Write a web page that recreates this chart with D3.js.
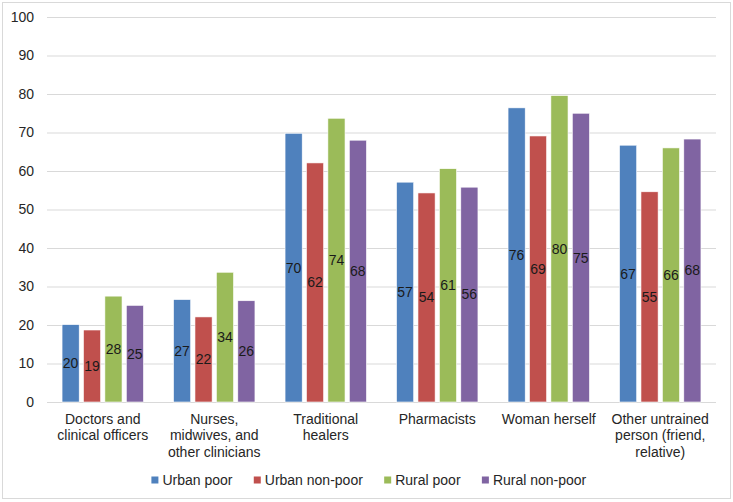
<!DOCTYPE html>
<html>
<head>
	<meta charset="utf-8">
	<title>Providers chart</title>
	<style>
		body {
			margin: 0;
			background: #fff;
		}
		svg {
			display: block;
			font-family: 'Liberation Sans', Arial, sans-serif;
		}
	</style>
</head>
<body>
	<svg width='733' height='502'></svg>
<script src='https://d3js.org/d3.v7.min.js'></script>
<script>
	// categories (each one is a list of lines)
	let categories = [
		['Doctors and', 'clinical officers'],
		['Nurses,', 'midwives, and', 'other clinicians'],
		['Traditional', 'healers'],
		['Pharmacists'],
		['Woman herself'],
		['Other untrained', 'person (friend,', 'relative)']
	]

	let seriesNames = ['Urban poor', 'Urban non-poor', 'Rural poor', 'Rural non-poor']
	let colors = ['#4F81BD', '#C0504D', '#9BBB59', '#8064A2']

	// one array per series, in category order
	let urbanPoor    = [20.1, 26.6, 69.8, 57.1, 76.4, 66.7]
	let urbanNonPoor = [18.7, 22.1, 62.1, 54.3, 69.1, 54.6]
	let ruralPoor    = [27.5, 33.7, 73.7, 60.6, 79.6, 66.0]
	let ruralNonPoor = [25.1, 26.3, 68.0, 55.8, 75.0, 68.3]

	let yTicks = [0, 10, 20, 30, 40, 50, 60, 70, 80, 90, 100]

	let series = [urbanPoor, urbanNonPoor, ruralPoor, ruralNonPoor]

	let plotL = 47, plotR = 716, plotT = 17, plotB = 402

	let svg = d3.select('svg')

	// outer frame
	svg.append('rect')
		.attr('x', 2.5)
		.attr('y', 2.5)
		.attr('width', 728)
		.attr('height', 496)
		.style('fill', '#fff')
		.style('stroke', '#d9d9d9')
		.style('stroke-width', 1)

	let x0 = d3.scaleBand()
		.domain(d3.range(categories.length))
		.range([plotL, plotR])
		.paddingInner(0.27)
		.paddingOuter(0.135)

	let x1 = d3.scaleBand()
		.domain(d3.range(seriesNames.length))
		.range([0, x0.bandwidth()])
		.paddingInner(0.2)

	let y = d3.scaleLinear()
		.domain([0, 100])
		.range([plotB, plotT])

	let color = d3.scaleOrdinal()
		.domain(d3.range(seriesNames.length))
		.range(colors)

	// gridlines + tick labels
	let yAxis = d3.axisLeft(y)
		.tickValues(yTicks)
		.tickSize(-(plotR - plotL))
		.tickPadding(13)

	let yg = svg.append('g')
		.attr('transform', `translate(${plotL},0)`)
		.call(yAxis)

	yg.select('.domain').remove()
	yg.selectAll('.tick line')
		.style('stroke', '#d9d9d9')
		.style('stroke-width', 1)
	yg.selectAll('.tick text')
		.style('font-size', '14px')
		.style('font-family', "'Liberation Sans', Arial, sans-serif")
		.style('fill', '#262626')

	// bars
	let groups = svg.append('g')
		.selectAll('g')
		.data(categories)
		.join('g')
		.attr('transform', (d, i) => `translate(${x0(i)},0)`)

	let cells = groups.selectAll('g')
		.data((d, i) => series.map((s, j) => ({ s: j, v: s[i] })))
		.join('g')

	cells.append('rect')
		.attr('x', d => x1(d.s))
		.attr('y', d => y(d.v))
		.attr('width', x1.bandwidth())
		.attr('height', d => y(0) - y(d.v))
		.style('fill', d => color(d.s))
		.style('stroke', '#fff')
		.style('stroke-width', 0.6)

	// data labels, centred in the bars
	cells.append('text')
		.attr('x', d => x1(d.s) + x1.bandwidth() / 2)
		.attr('y', d => y(d.v / 2))
		.attr('dy', '0.35em')
		.attr('text-anchor', 'middle')
		.style('font-size', '14px')
		.style('fill', '#1a1a1a')
		.text(d => Math.round(d.v))

	// category labels
	let catText = svg.append('g')
		.selectAll('text')
		.data(categories)
		.join('text')
		.attr('text-anchor', 'middle')
		.attr('x', (d, i) => x0(i) + x0.bandwidth() / 2)
		.attr('y', 424)
		.style('font-size', '14px')
		.style('fill', '#262626')

	catText.selectAll('tspan')
		.data(d => d)
		.join('tspan')
		.attr('x', function () { return d3.select(this.parentNode).attr('x') })
		.attr('dy', (d, i) => i == 0 ? 0 : 16.3)
		.text(d => d)

	// legend
	let legend = svg.append('g')
	let items = legend.selectAll('g')
		.data(seriesNames)
		.join('g')

	items.append('rect')
		.attr('width', 7)
		.attr('height', 7)
		.attr('y', -3.5)
		.style('fill', (d, i) => color(i))

	items.append('text')
		.attr('x', 11)
		.attr('dy', '0.35em')
		.style('font-size', '14px')
		.style('fill', '#262626')
		.text(d => d)

	let pos = 0
	let offsets = []
	items.each(function () {
		offsets.push(pos)
		pos += this.getBBox().width + 21
	})
	let total = pos - 21
	let startX = 369 - total / 2
	items.attr('transform', (d, i) => `translate(${startX + offsets[i]},480)`)
</script>
</body>
</html>
